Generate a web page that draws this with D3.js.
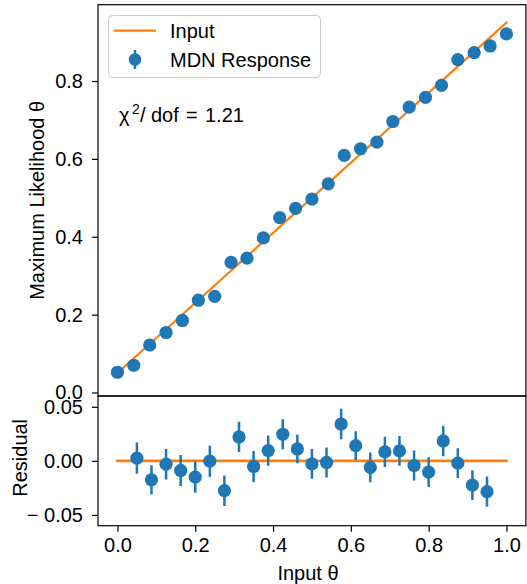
<!DOCTYPE html>
<html><head><meta charset="utf-8">
<script src="https://cdn.jsdelivr.net/npm/d3@7"></script>
<style>body{margin:0;background:#fff}svg{display:block}text{font-family:"Liberation Sans",Arial,sans-serif;fill:#000}</style>
</head><body>
<script>
// ---- data ----
const inputTheta = [0, 0.042, 0.083, 0.125, 0.167, 0.208, 0.25, 0.292, 0.333, 0.375, 0.417, 0.458, 0.5, 0.542, 0.583, 0.625, 0.667, 0.708, 0.75, 0.792, 0.833, 0.875, 0.917, 0.958, 1.0];
const mlTheta = [0.052, 0.070, 0.122, 0.154, 0.185, 0.237, 0.247, 0.334, 0.345, 0.397, 0.449, 0.473, 0.497, 0.536, 0.609, 0.626, 0.643, 0.696, 0.733, 0.758, 0.789, 0.855, 0.873, 0.890, 0.921];
const mlErr = [0.014, 0.014, 0.014, 0.014, 0.014, 0.014, 0.014, 0.014, 0.014, 0.014, 0.014, 0.014, 0.014, 0.014, 0.014, 0.014, 0.014, 0.014, 0.014, 0.014, 0.014, 0.014, 0.014, 0.014, 0.014];
const inputLineX = [0, 1];
const inputLineY = [0.05, 0.95];
const resX = [0.05, 0.0875, 0.125, 0.1625, 0.2, 0.2375, 0.275, 0.3125, 0.35, 0.3875, 0.425, 0.4625, 0.5, 0.5375, 0.575, 0.6125, 0.65, 0.6875, 0.725, 0.7625, 0.8, 0.8375, 0.875, 0.9125, 0.95];
const resY = [0.0025, -0.0175, -0.0031, -0.0089, -0.0150, -0.0003, -0.0276, 0.0221, -0.0052, 0.0095, 0.0246, 0.0110, -0.0028, -0.0015, 0.0341, 0.0141, -0.0061, 0.0083, 0.0092, -0.0043, -0.0104, 0.0184, -0.0021, -0.0224, -0.0285];
const resErr = [0.0144, 0.0135, 0.0141, 0.0143, 0.0144, 0.0143, 0.0141, 0.0140, 0.0143, 0.0140, 0.0138, 0.0132, 0.0138, 0.0138, 0.0141, 0.0132, 0.0138, 0.0140, 0.0138, 0.0138, 0.0138, 0.0141, 0.0138, 0.0138, 0.0140];
const resLineX = [0, 1];
const resLineY = [0, 0];
const xTicks = [0, 0.2, 0.4, 0.6, 0.8, 1.0];
const xTickLabels = ["0.0", "0.2", "0.4", "0.6", "0.8", "1.0"];
const yTopTicks = [0, 0.2, 0.4, 0.6, 0.8];
const yTopTickLabels = ["0.0", "0.2", "0.4", "0.6", "0.8"];
const yResTicks = [-0.05, 0, 0.05];
const yResTickLabels = ["\u2212 0.05", "0.00", "0.05"];
const legendLabels = ["Input", "MDN Response"];
const chi2Value = "1.21";

// ---- layout ----
const W = 527, H = 584;
const BLUE = "#1f77b4", ORANGE = "#ff7f0e";
const FS = 20;
const L = 98, R = 525.9, T = 4.7, MID = 396, B = 525.7;

const svg = d3.select("body").append("svg").attr("width", W).attr("height", H);

const x = d3.scaleLinear().domain([-0.05, 1.05]).range([L, R]);
const yTop = d3.scaleLinear().domain([-0.009, 0.996]).range([MID, T]);
const yRes = d3.scaleLinear().domain([-0.06, 0.06]).range([B, MID]);

function clip(id, y0, y1) {
  svg.append("clipPath").attr("id", id).append("rect")
    .attr("x", L).attr("y", y0).attr("width", R - L).attr("height", y1 - y0);
}
clip("cTop", T, MID); clip("cRes", MID, B);

const line = (xs, ys, sx, sy) => d3.line()(xs.map((v, i) => [sx(v), sy(ys[i])]));

// top panel
const gTop = svg.append("g").attr("clip-path", "url(#cTop)");
gTop.append("path").attr("d", line(inputLineX, inputLineY, x, yTop))
  .attr("stroke", ORANGE).attr("stroke-width", 2.2).attr("fill", "none").attr("stroke-linecap", "square");
gTop.selectAll("line.eb").data(inputTheta).join("line")
  .attr("x1", d => x(d)).attr("x2", d => x(d))
  .attr("y1", (d, i) => yTop(mlTheta[i] - mlErr[i])).attr("y2", (d, i) => yTop(mlTheta[i] + mlErr[i]))
  .attr("stroke", BLUE).attr("stroke-width", 2.5);
gTop.selectAll("circle").data(inputTheta).join("circle")
  .attr("cx", d => x(d)).attr("cy", (d, i) => yTop(mlTheta[i])).attr("r", 6.6).attr("fill", BLUE);

// residual panel
const gRes = svg.append("g").attr("clip-path", "url(#cRes)");
gRes.append("path").attr("d", line(resLineX, resLineY, x, yRes))
  .attr("stroke", ORANGE).attr("stroke-width", 2.6).attr("fill", "none").attr("stroke-linecap", "square");
gRes.selectAll("line.eb").data(resX).join("line")
  .attr("x1", d => x(d)).attr("x2", d => x(d))
  .attr("y1", (d, i) => yRes(resY[i] - resErr[i])).attr("y2", (d, i) => yRes(resY[i] + resErr[i]))
  .attr("stroke", BLUE).attr("stroke-width", 2.5);
gRes.selectAll("circle").data(resX).join("circle")
  .attr("cx", d => x(d)).attr("cy", (d, i) => yRes(resY[i])).attr("r", 6.6).attr("fill", BLUE);

// frames
svg.append("rect").attr("x", L).attr("y", T).attr("width", R - L).attr("height", MID - T)
  .attr("fill", "none").attr("stroke", "#000").attr("stroke-width", 1.2);
svg.append("rect").attr("x", L).attr("y", MID).attr("width", R - L).attr("height", B - MID)
  .attr("fill", "none").attr("stroke", "#000").attr("stroke-width", 1.2);

// axes
function styleAxis(g) {
  g.select(".domain").remove();
  g.selectAll(".tick line").attr("stroke", "#000").attr("stroke-width", 1.2);
  g.selectAll(".tick text").attr("font-size", FS).attr("font-family", '"Liberation Sans",Arial,sans-serif').attr("fill", "#000");
}
svg.append("g").attr("transform", `translate(${L},0)`)
  .call(d3.axisLeft(yTop).tickValues(yTopTicks).tickFormat((d, i) => yTopTickLabels[i]).tickSize(6).tickPadding(9))
  .call(styleAxis);
svg.append("g").attr("transform", `translate(${L},0)`)
  .call(d3.axisLeft(yRes).tickValues(yResTicks).tickFormat((d, i) => yResTickLabels[i]).tickSize(6).tickPadding(9))
  .call(styleAxis);
svg.append("g").attr("transform", `translate(0,${B})`)
  .call(d3.axisBottom(x).tickValues(xTicks).tickFormat((d, i) => xTickLabels[i]).tickSize(6).tickPadding(6))
  .call(styleAxis);

// axis labels
svg.append("text").attr("transform", `translate(44,${(T + MID) / 2}) rotate(-90)`)
  .attr("text-anchor", "middle").attr("font-size", FS).text("Maximum Likelihood θ");
svg.append("text").attr("transform", `translate(27,${(MID + B) / 2 - 3}) rotate(-90)`)
  .attr("text-anchor", "middle").attr("font-size", FS).text("Residual");
svg.append("text").attr("x", 308).attr("y", 580)
  .attr("text-anchor", "middle").attr("font-size", FS).text("Input θ");

// legend
const lg = svg.append("g");
lg.append("rect").attr("x", 108.5).attr("y", 15.5).attr("width", 212).attr("height", 62).attr("rx", 4)
  .attr("fill", "#fff").attr("fill-opacity", 0.8).attr("stroke", "#cccccc").attr("stroke-width", 1);
lg.append("line").attr("x1", 114).attr("x2", 156).attr("y1", 30.7).attr("y2", 30.7)
  .attr("stroke", ORANGE).attr("stroke-width", 2.2);
lg.append("line").attr("x1", 135).attr("x2", 135).attr("y1", 50).attr("y2", 69)
  .attr("stroke", BLUE).attr("stroke-width", 2.5);
lg.append("circle").attr("cx", 135).attr("cy", 59.5).attr("r", 6.3).attr("fill", BLUE);
lg.append("text").attr("x", 170).attr("y", 38).attr("font-size", FS).text(legendLabels[0]);
lg.append("text").attr("x", 170).attr("y", 67).attr("font-size", FS).text(legendLabels[1]);

// chi2 annotation
const t = svg.append("text").attr("y", 122).attr("font-size", FS);
t.append("tspan").attr("x", 119).text("χ");
t.append("tspan").attr("x", 132).attr("dy", -8).attr("font-size", 14).text("2");
t.append("tspan").attr("x", 140).attr("dy", 8).text("/");
t.append("tspan").attr("x", 151).text("dof");
t.append("tspan").attr("x", 186).text("=");
t.append("tspan").attr("x", 205).text(chi2Value);
</script>
</body></html>
